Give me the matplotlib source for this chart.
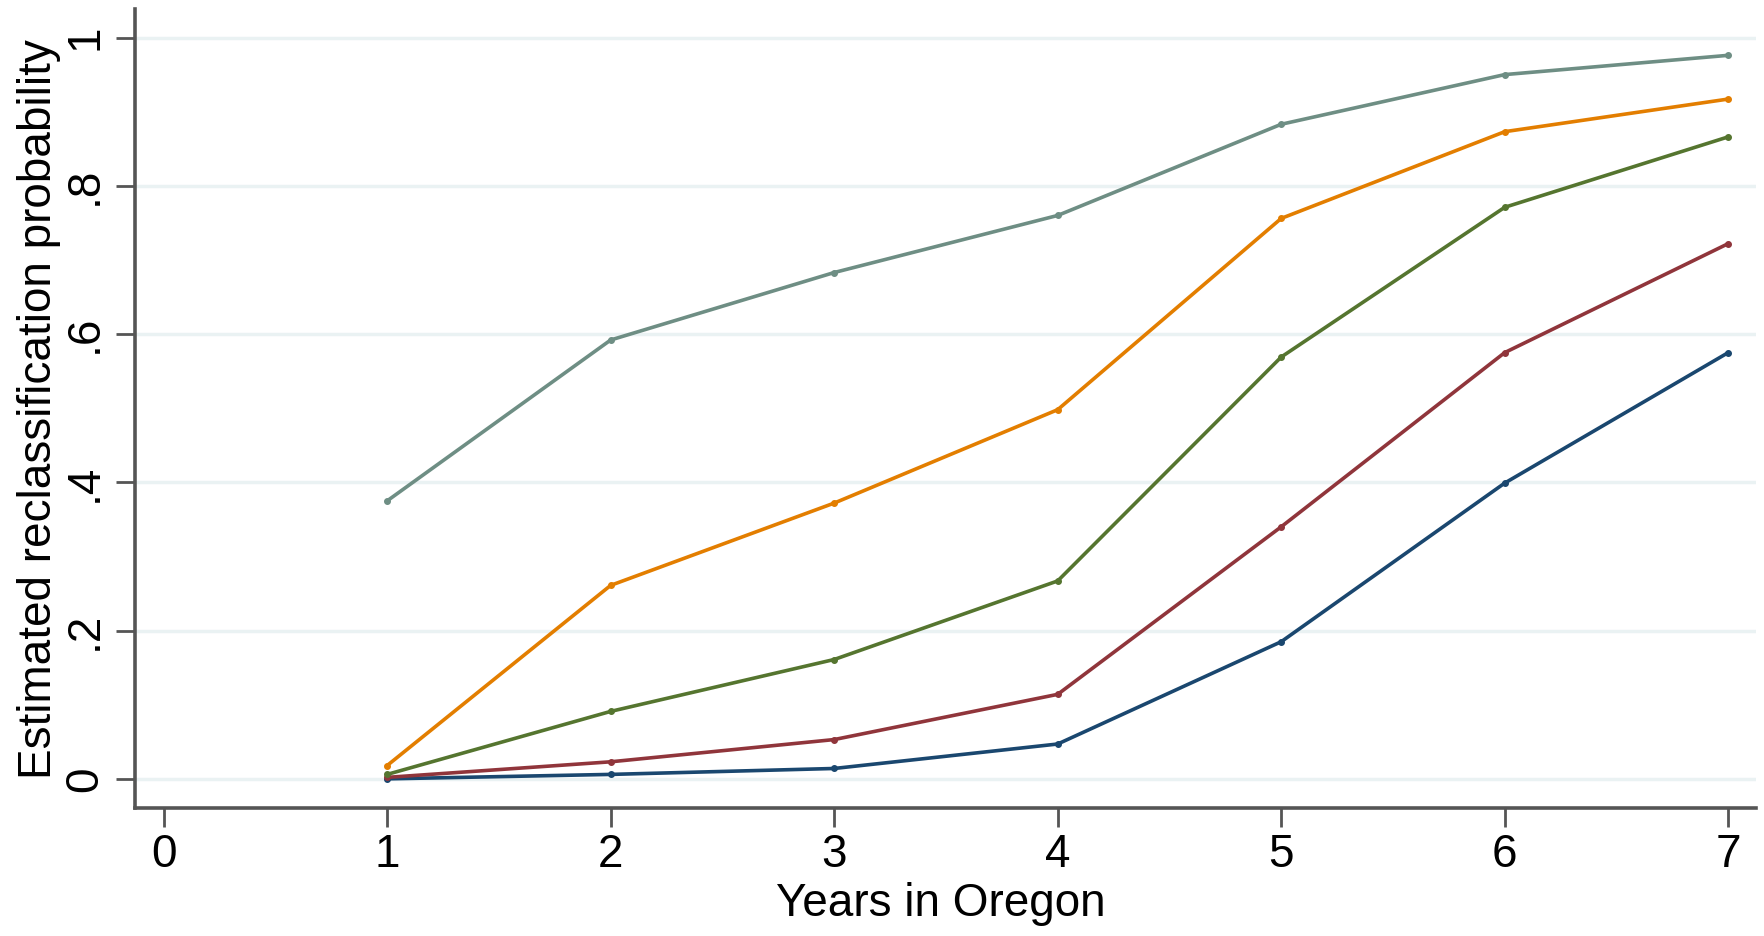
import matplotlib
matplotlib.use("Agg")
import matplotlib.pyplot as plt

years = [1, 2, 3, 4, 5, 6, 7]
teal_series = [0.375, 0.592, 0.683, 0.760, 0.883, 0.950, 0.976]
orange_series = [0.018, 0.261, 0.372, 0.498, 0.756, 0.873, 0.917]
green_series = [0.006, 0.091, 0.161, 0.267, 0.569, 0.771, 0.866]
red_series = [0.002, 0.023, 0.053, 0.114, 0.340, 0.575, 0.722]
blue_series = [0.000, 0.006, 0.014, 0.047, 0.185, 0.399, 0.575]

x_ticks = [0, 1, 2, 3, 4, 5, 6, 7]
y_ticks = [0, 0.2, 0.4, 0.6, 0.8, 1.0]
y_tick_labels = ["0", ".2", ".4", ".6", ".8", "1"]

plt.rcParams['font.family'] = ['Liberation Sans', 'DejaVu Sans']

fig = plt.figure(figsize=(17.65, 9.36), dpi=100)
ax = fig.add_axes([0.0765, 0.137, 0.9185, 0.853])

series = [
    (blue_series, "#1a476f"),
    (red_series, "#90353b"),
    (green_series, "#55752f"),
    (orange_series, "#e37e00"),
    (teal_series, "#6e8e84"),
]
for vals, col in series:
    ax.plot(years, vals, color=col, lw=2.6, marker='o', ms=4, zorder=3)

ax.set_xlim(-0.128, 7.125)
ax.set_ylim(-0.039, 1.038)
ax.set_xticks(x_ticks)
ax.set_yticks(y_ticks)
ax.set_yticklabels(y_tick_labels, rotation=90, va='center')

ax.grid(axis='y', color='#eaf2f3', lw=2.5, zorder=0)
ax.set_axisbelow(True)

for s in ['top', 'right']:
    ax.spines[s].set_visible(False)
for s in ['left', 'bottom']:
    ax.spines[s].set_color('#555555')
    ax.spines[s].set_linewidth(2.6)

ax.tick_params(axis='both', colors='#555555', length=13.5, width=2, labelsize=33,
               labelcolor='black')
ax.tick_params(axis='x', pad=5)
ax.tick_params(axis='y', pad=6.5)

ax.set_xlabel("Years in Oregon", fontsize=33)
ax.set_ylabel("Estimated reclassification probability", fontsize=33)
ax.xaxis.set_label_coords(0.497, -0.0927)
ax.yaxis.set_label_coords(-0.0457, 0.5)

fig.savefig("out.png", dpi=100, facecolor='white')
